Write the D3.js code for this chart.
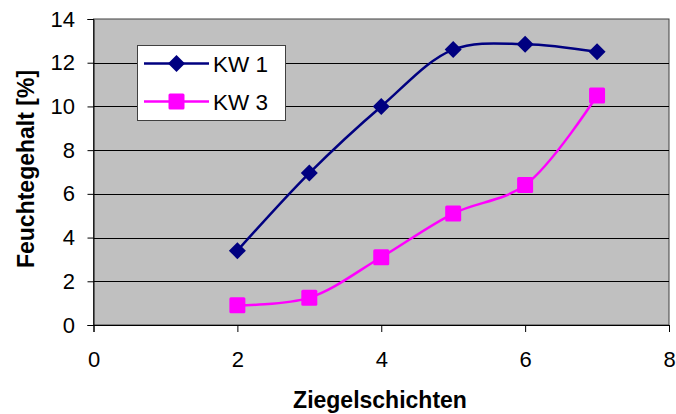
<!DOCTYPE html>
<html><head><meta charset="utf-8">
<script src="https://cdn.jsdelivr.net/npm/d3@7"></script>
<style>body{margin:0;background:#fff}svg{display:block}text{font-family:"Liberation Sans",Arial,sans-serif}</style>
</head><body>
<svg id="c" width="676" height="414"></svg>
<script>
const xValues = [2, 3, 4, 5, 6, 7];
const kw1 = [3.4, 6.95, 10.0, 12.6, 12.85, 12.5];
const kw3 = [0.9, 1.25, 3.1, 5.1, 6.4, 10.5];
const seriesNames = ["KW 1", "KW 3"];
const xTicks = [0, 2, 4, 6, 8];
const yTicks = [0, 2, 4, 6, 8, 10, 12, 14];
const xTitle = "Ziegelschichten";
const yTitle = "Feuchtegehalt [%]";

const svg = d3.select("#c");
const L = 93.5, R = 669, T = 19, B = 325;
const x = d3.scaleLinear().domain([0, 8]).range([L, R]);
const y = d3.scaleLinear().domain([0, 14]).range([B, T]);
const FONT = '"Liberation Sans",Arial,sans-serif';

svg.append("rect").attr("x", L).attr("y", T).attr("width", R - L).attr("height", B - T)
  .attr("fill", "#c0c0c0").attr("stroke", "#404040").attr("stroke-width", 1);

svg.append("g").selectAll("line").data(yTicks.filter(d => d > 0 && d < 14)).join("line")
  .attr("x1", L).attr("x2", R).attr("y1", d => Math.round(y(d)) + 0.5).attr("y2", d => Math.round(y(d)) + 0.5)
  .attr("stroke", "#000").attr("stroke-width", 1);

const yAxis = svg.append("g").attr("transform", `translate(${L},0)`)
  .call(d3.axisLeft(y).tickValues(yTicks).tickSize(6).tickPadding(12.5));
const xAxis = svg.append("g").attr("transform", `translate(0,${B})`)
  .call(d3.axisBottom(x).tickValues(xTicks).tickSize(7).tickPadding(19));
[yAxis, xAxis].forEach(a => {
  a.attr("font-size", 22).attr("font-family", FONT);
  a.select(".domain").attr("stroke", "#000");
  a.selectAll(".tick line").attr("stroke", "#000");
  a.selectAll("text").attr("fill", "#000");
});

const line = d3.line().x(d => x(d[0])).y(d => y(d[1])).curve(d3.curveCatmullRom.alpha(0.5));
const d1 = xValues.map((v, i) => [v, kw1[i]]);
const d3s = xValues.map((v, i) => [v, kw3[i]]);

svg.append("path").attr("d", line(d1)).attr("fill", "none").attr("stroke", "#000080").attr("stroke-width", 2.5);
svg.append("path").attr("d", line(d3s)).attr("fill", "none").attr("stroke", "#ff00ff").attr("stroke-width", 2.5);

function diamondPath(cx, cy, r) { return `M${cx},${cy - r}L${cx + r},${cy}L${cx},${cy + r}L${cx - r},${cy}Z`; }
svg.append("g").selectAll("path").data(d1).join("path")
  .attr("d", d => diamondPath(x(d[0]), y(d[1]), 8.5)).attr("fill", "#000080");
svg.append("g").selectAll("rect").data(d3s).join("rect")
  .attr("x", d => x(d[0]) - 8).attr("y", d => y(d[1]) - 8).attr("width", 16).attr("height", 16).attr("rx", 1.5)
  .attr("fill", "#ff00ff");

// legend
const lg = svg.append("g");
lg.append("rect").attr("x", 137.5).attr("y", 45.5).attr("width", 148).attr("height", 75)
  .attr("fill", "#fff").attr("stroke", "#404040").attr("stroke-width", 1);
const ly = [63.5, 101.5];
const cols = ["#000080", "#ff00ff"];
ly.forEach((yy, i) => {
  lg.append("line").attr("x1", 144).attr("x2", 209).attr("y1", yy).attr("y2", yy)
    .attr("stroke", cols[i]).attr("stroke-width", 2.5);
  if (i === 0) lg.append("path").attr("d", diamondPath(176.5, yy, 8.5)).attr("fill", cols[i]);
  else lg.append("rect").attr("x", 168.5).attr("y", yy - 8).attr("width", 16).attr("height", 16).attr("rx", 1.5).attr("fill", cols[i]);
  lg.append("text").attr("x", 213).attr("y", yy + 8).attr("font-size", 22.5).text(seriesNames[i]);
});

svg.append("text").attr("x", 380).attr("y", 408).attr("text-anchor", "middle")
  .attr("font-size", 23).attr("font-weight", "bold").text(xTitle);
svg.append("text").attr("transform", `translate(34,169) rotate(-90)`).attr("text-anchor", "middle")
  .attr("font-size", 23).attr("font-weight", "bold").text(yTitle);
</script>
</body></html>
